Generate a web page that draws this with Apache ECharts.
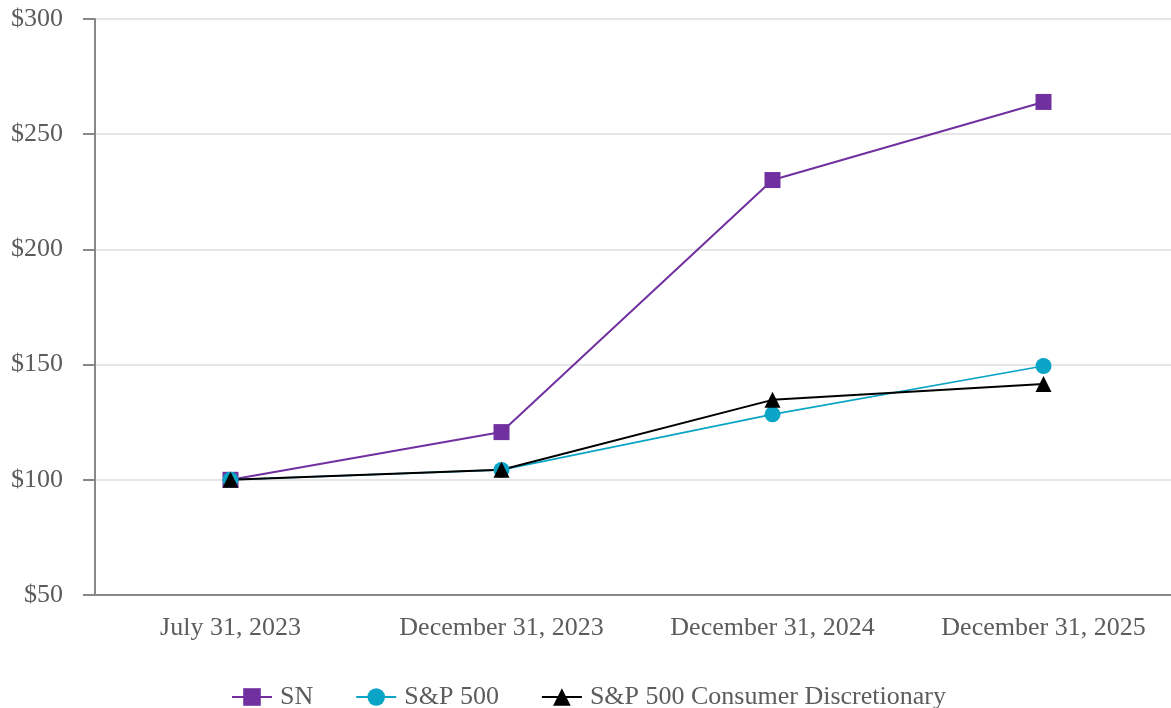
<!DOCTYPE html>
<html>
<head>
<meta charset="utf-8">
<script src="https://cdn.jsdelivr.net/npm/echarts@6/dist/echarts.min.js"></script>
<style>html,body{margin:0;padding:0;background:#fff;overflow:hidden}#c{width:1182px;height:708px}</style>
</head>
<body>
<div id="c"></div>
<script>
const categories = ['July 31, 2023', 'December 31, 2023', 'December 31, 2024', 'December 31, 2025'];
const snValues = [100, 120.7, 230.1, 264];
const sp500Values = [100, 104.3, 128.4, 149.4];
const consDiscValues = [100, 104.4, 134.7, 141.6];
const seriesNames = ['SN', 'S&P 500', 'S&P 500 Consumer Discretionary'];

const FONT = 'Liberation Serif';
const TXT = '#5c5c5c';
const chart = echarts.init(document.getElementById('c'));
chart.setOption({
  animation: false,
  grid: { left: 95, width: 1084, top: 19, bottom: 113, containLabel: false },
  legend: {
    left: 231, top: 684, padding: 0,
    itemWidth: 40, itemHeight: 22, itemGap: 42,
    textStyle: { fontFamily: FONT, fontSize: 26, color: TXT, padding: [0, 0, 0, 3] },
    data: seriesNames
  },
  xAxis: {
    type: 'category', data: categories, boundaryGap: true,
    axisLine: { lineStyle: { color: '#888', width: 2 } },
    axisTick: { alignWithLabel: true, length: 11, lineStyle: { color: '#888', width: 2 } },
    axisLabel: { fontFamily: FONT, fontSize: 26, color: TXT, margin: 20 },
    splitLine: { show: false }
  },
  yAxis: {
    type: 'value', min: 50, max: 300, interval: 50,
    axisLine: { show: true, lineStyle: { color: '#888', width: 2 } },
    axisTick: { show: true, length: 12, lineStyle: { color: '#888', width: 2 } },
    axisLabel: { fontFamily: FONT, fontSize: 26, color: TXT, margin: 32, formatter: v => '$' + v },
    splitLine: { lineStyle: { color: '#e6e6e6', width: 2 } }
  },
  series: [
    { name: seriesNames[0], type: 'line', data: snValues, symbol: 'rect', symbolSize: 16,
      itemStyle: { color: '#7030a0' }, lineStyle: { color: '#7030a0', width: 2 } },
    { name: seriesNames[1], type: 'line', data: sp500Values, symbol: 'circle', symbolSize: 16,
      itemStyle: { color: '#0aa5c6' }, lineStyle: { color: '#0aa5c6', width: 1.6 } },
    { name: seriesNames[2], type: 'line', data: consDiscValues, symbol: 'triangle', symbolSize: 16,
      itemStyle: { color: '#000' }, lineStyle: { color: '#000', width: 2 } }
  ]
});
</script>
</body>
</html>
